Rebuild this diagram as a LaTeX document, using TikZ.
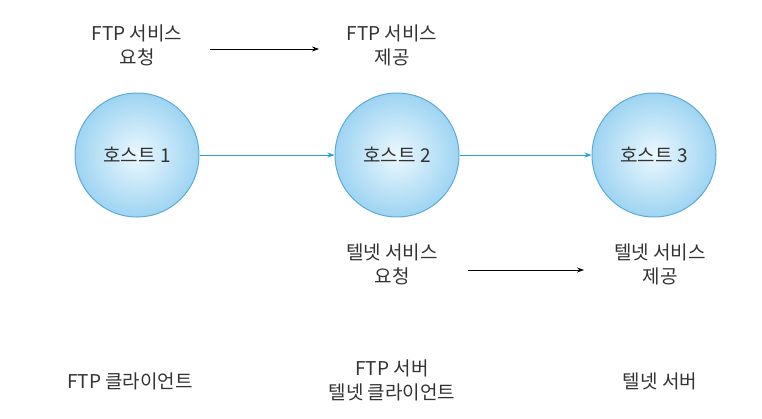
\documentclass[tikz,border=0pt]{standalone}
\usepackage{fontspec}
\setmainfont{Noto Sans CJK KR}
\usetikzlibrary{arrows.meta}

\begin{document}
\begin{tikzpicture}[x=1pt,y=-1pt,
    host/.style={circle, minimum size=124pt, inner sep=0pt, draw=hostborder, line width=1pt,
        inner color=hostinner, outer color=hostouter},
    lbl/.style={align=center, font=\fontsize{19}{24}\selectfont, text=black!80},
    hostarrow/.style={draw=linkblue, line width=0.8pt, -{Stealth[length=7pt,width=5pt]}},
    servarrow/.style={draw=black, line width=0.7pt, -{Stealth[length=7pt,width=5pt]}}]
        % Farben
        \definecolor{hostinner}{RGB}{236, 248, 254}
        \definecolor{hostouter}{RGB}{158, 212, 242}
        \definecolor{hostborder}{RGB}{95, 170, 215}
        \definecolor{linkblue}{RGB}{40, 160, 210}

        % Rahmen
        \useasboundingbox (0, 0) rectangle (762, 418);

        % Hosts
        \node[host, lbl] (h1) at (137, 155) {호스트 1};
        \node[host, lbl] (h2) at (397, 155) {호스트 2};
        \node[host, lbl] (h3) at (654, 155) {호스트 3};

        % Verbindungen
        \draw[hostarrow] (h1) -- (h2);
        \draw[hostarrow] (h2) -- (h3);

        % FTP-Dienst
        \node[lbl] (ftpreq) at (137, 45) {FTP 서비스\\요청};
        \node[lbl] (ftpsrv) at (392, 45) {FTP 서비스\\제공};
        \coordinate (ftpa) at (210, 49);
        \coordinate (ftpb) at (319, 49);
        \draw[servarrow] (ftpa) -- (ftpb);

        % Telnet-Dienst
        \node[lbl] (telreq) at (392, 264) {텔넷 서비스\\요청};
        \node[lbl] (telsrv) at (660, 264) {텔넷 서비스\\제공};
        \coordinate (tela) at (468, 270);
        \coordinate (telb) at (584, 270);
        \draw[servarrow] (tela) -- (telb);

        % Rollen
        \node[lbl] (r1) at (130, 381) {FTP 클라이언트};
        \node[lbl] (r2) at (392, 380) {FTP 서버\\텔넷 클라이언트};
        \node[lbl] (r3) at (660, 381) {텔넷 서버};
    \end{tikzpicture}
\end{document}
